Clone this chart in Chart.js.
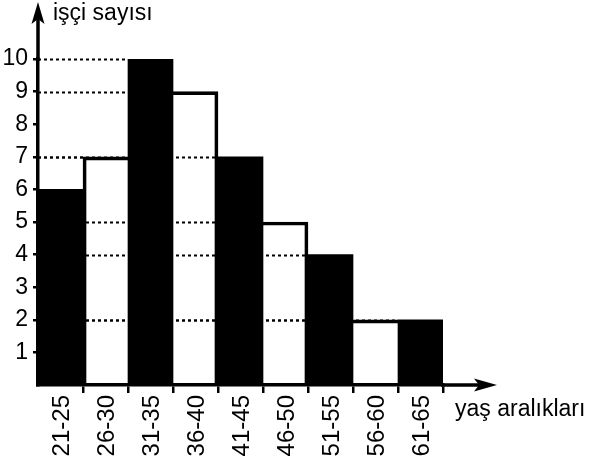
<!DOCTYPE html>
<html>
<head>
<meta charset="utf-8">
<script src="https://cdn.jsdelivr.net/npm/chart.js@4"></script>
<style>
html,body{margin:0;padding:0;background:#fff;}
#wrap{width:594px;height:462px;}
</style>
</head>
<body>
<div id="wrap"><canvas id="c" width="594" height="462"></canvas></div>
<script>
const categories = ['21-25','26-30','31-35','36-40','41-45','46-50','51-55','56-60','61-65'];
const workers = [6, 7, 10, 9, 7, 5, 4, 2, 2];
const yTicks = [1,2,3,4,5,6,7,8,9,10];
const yTitle = 'işçi sayısı';
const xTitle = 'yaş aralıkları';

const FONT = '"Liberation Sans", Arial, sans-serif';

const isBlack = i => i % 2 === 0;

const decor = {
  id: 'decor',
  beforeDatasetsDraw(chart) {
    const ctx = chart.ctx, ca = chart.chartArea, ys = chart.scales.y;
    const meta = chart.getDatasetMeta(0);
    ctx.save();
    ctx.strokeStyle = '#000';
    ctx.lineWidth = 2;
    ctx.setLineDash([3, 3]);
    workers.forEach((v, i) => {
      const bar = meta.data[i];
      const x1 = bar.x - bar.width / 2;
      const y = Math.round(ys.getPixelForValue(v)) + 0.5;
      if (x1 - ca.left > 2) {
        ctx.beginPath();
        ctx.moveTo(ca.left, y);
        ctx.lineTo(x1, y);
        ctx.stroke();
      }
    });
    ctx.restore();
  },
  afterDraw(chart) {
    const ctx = chart.ctx, ca = chart.chartArea;
    ctx.save();
    ctx.strokeStyle = '#000';
    ctx.fillStyle = '#000';
    ctx.lineWidth = 3.5;
    const ax = ca.left, ay = ca.bottom;
    // y-axis extension
    ctx.beginPath();
    ctx.moveTo(ax, ca.top + 2);
    ctx.lineTo(ax, 15);
    ctx.stroke();
    // x-axis extension
    ctx.beginPath();
    ctx.moveTo(ca.right - 2, ay);
    ctx.lineTo(485, ay);
    ctx.stroke();
    // arrow heads
    ctx.beginPath();
    ctx.moveTo(ax, 2);
    ctx.lineTo(ax - 6.5, 24);
    ctx.lineTo(ax, 19);
    ctx.lineTo(ax + 6.5, 24);
    ctx.closePath();
    ctx.fill();
    ctx.beginPath();
    ctx.moveTo(497, ay);
    ctx.lineTo(474, ay - 6.5);
    ctx.lineTo(479, ay);
    ctx.lineTo(474, ay + 6.5);
    ctx.closePath();
    ctx.fill();
    // axis titles
    ctx.font = '23px ' + FONT;
    ctx.textAlign = 'left';
    ctx.textBaseline = 'alphabetic';
    ctx.fillText(yTitle, 53, 20);
    ctx.fillText(xTitle, 455, 416);
    ctx.restore();
  }
};

new Chart(document.getElementById('c'), {
  type: 'bar',
  data: {
    labels: categories,
    datasets: [{
      data: workers,
      backgroundColor: ctx => isBlack(ctx.dataIndex) ? '#000' : 'rgba(0,0,0,0)',
      borderColor: '#000',
      borderWidth: ctx => {
        const i = ctx.dataIndex;
        if (isBlack(i)) return 0;
        const v = workers[i];
        const l = i > 0 ? workers[i-1] : 0;
        const r = i < workers.length - 1 ? workers[i+1] : 0;
        return {top: 3, bottom: 0, left: v > l ? 3 : 0, right: v > r ? 3 : 0};
      },
      borderSkipped: false,
      categoryPercentage: 1,
      barPercentage: 1
    }]
  },
  options: {
    responsive: false,
    animation: false,
    devicePixelRatio: 1,
    layout: {padding: {top: 59, right: 151, bottom: 0, left: 0}},
    plugins: {legend: {display: false}, tooltip: {enabled: false}, title: {display: false}},
    scales: {
      x: {
        type: 'category',
        offset: true,
        afterFit: s => { s.height = 77; },
        grid: {
          offset: true,
          drawOnChartArea: false,
          drawTicks: true,
          tickLength: 8,
          lineWidth: 2.5,
          color: ctx => ctx.index === 0 ? 'rgba(0,0,0,0)' : '#000'
        },
        border: {display: true, color: '#000', width: 3.5},
        ticks: {
          color: '#000',
          font: {family: FONT, size: 24},
          minRotation: 90,
          maxRotation: 90,
          padding: 2,
          labelOffset: 2,
          autoSkip: false
        }
      },
      y: {
        min: 0,
        max: 10,
        afterFit: s => { s.width = 38; },
        afterBuildTicks: s => { s.ticks = [0].concat(yTicks).map(v => ({value: v})); },
        grid: {
          drawOnChartArea: false,
          drawTicks: true,
          tickLength: 5,
          lineWidth: 2.5,
          color: ctx => (ctx.tick && ctx.tick.value === 0) ? 'rgba(0,0,0,0)' : '#000'
        },
        border: {display: true, color: '#000', width: 3.5},
        ticks: {
          color: '#000',
          font: {family: FONT, size: 23},
          padding: 5,
          callback: v => v === 0 ? '' : String(v)
        }
      }
    }
  },
  plugins: [decor]
});
</script>
</body>
</html>
